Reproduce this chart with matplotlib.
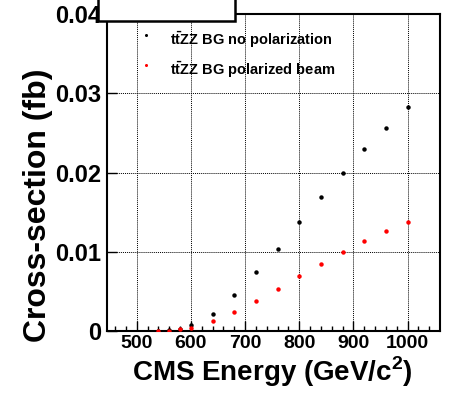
import numpy as np
import matplotlib
matplotlib.use("Agg")
import matplotlib.pyplot as plt
from matplotlib.patches import Rectangle
from matplotlib.ticker import MultipleLocator

# CMS energy (GeV) and cross-sections (fb)
energy = [540, 560, 580, 600, 640, 680, 720, 760, 800, 840, 880, 920, 960, 1000]
xsec_nopol = [0.0, 0.0001, 0.0003, 0.0007, 0.0022, 0.0045, 0.0074, 0.0104,
              0.0138, 0.0169, 0.0200, 0.0230, 0.0256, 0.0283]
xsec_pol = [0.0, 0.0, 0.0002, 0.0004, 0.0012, 0.0024, 0.0038, 0.0053,
            0.0069, 0.0085, 0.0100, 0.0114, 0.0126, 0.0138]
label_nopol = r"t$\bar{\mathbf{t}}$ZZ BG no polarization"
label_pol = r"t$\bar{\mathbf{t}}$ZZ BG polarized beam"

plt.rcParams["font.family"] = ["Liberation Sans", "DejaVu Sans"]
plt.rcParams["mathtext.fontset"] = "custom"
plt.rcParams["mathtext.rm"] = "Liberation Sans:bold"
plt.rcParams["mathtext.bf"] = "Liberation Sans:bold"

fig = plt.figure(figsize=(4.53, 3.94), dpi=100)
ax = fig.add_axes([107 / 453, 1 - 331 / 394, (439.5 - 107) / 453, (331 - 14) / 394])

ax.plot(energy, xsec_nopol, "o", color="black", ms=3.2, mec="none", zorder=3)
ax.plot(energy, xsec_pol, "o", color="red", ms=3.2, mec="none", zorder=4)

ax.set_xlim(445, 1059)
ax.set_ylim(0, 0.04)
ax.xaxis.set_major_locator(MultipleLocator(100))
ax.xaxis.set_minor_locator(MultipleLocator(20))
ax.set_yticks([0, 0.01, 0.02, 0.03, 0.04])
ax.set_yticklabels(["0", "0.01", "0.02", "0.03", "0.04"])

ax.tick_params(axis="x", which="major", direction="in", length=7, width=1,
               labelsize=14, pad=3)
ax.tick_params(axis="x", which="minor", direction="in", length=3.5, width=1)
ax.tick_params(axis="y", which="major", direction="in", length=7, width=1,
               labelsize=17, pad=4)
for lab in ax.get_xticklabels() + ax.get_yticklabels():
    lab.set_fontweight("bold")

ax.grid(True, which="major", color="black", linestyle=(0, (1, 1)), linewidth=0.7)
for sp in ax.spines.values():
    sp.set_linewidth(1.5)

# legend entries (no frame)
fig.lines.append(plt.Line2D([146 / 453], [1 - 35 / 394], marker="o", ms=2.2,
                            color="black", mec="none", transform=fig.transFigure))
fig.lines.append(plt.Line2D([146 / 453], [1 - 65 / 394], marker="o", ms=2.2,
                            color="red", mec="none", transform=fig.transFigure))
fig.text(170 / 453, 1 - 40 / 394, label_nopol, fontsize=10.5, fontweight="bold",
         va="center", ha="left")
fig.text(170 / 453, 1 - 70 / 394, label_pol, fontsize=10.5, fontweight="bold",
         va="center", ha="left")

# title box clipped at the top
fig.patches.append(Rectangle((98 / 453, 1 - 21 / 394), (235 - 98) / 453, 0.2,
                             transform=fig.transFigure, facecolor="white",
                             edgecolor="black", linewidth=1.8, zorder=5))

fig.text(272.5 / 453, 1 - 372 / 394, "CMS Energy (GeV/c$^2$)", fontsize=20,
         fontweight="bold", ha="center", va="center")
fig.text(38 / 453, 1 - 205 / 394, "Cross-section (fb)", fontsize=23,
         fontweight="bold", ha="center", va="center", rotation=90)

fig.savefig("out.png", dpi=100)
